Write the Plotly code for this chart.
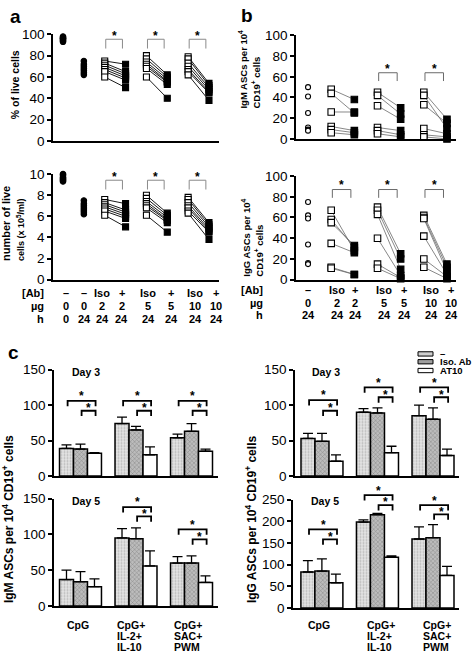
import plotly.graph_objects as go

W, H = 473, 659
FONT = "Liberation Sans, Arial, sans-serif"

# ---------------- panel a : viability, 7 donors ----------------
a_ab_labels = ["–", "–", "Iso", "+", "Iso", "+", "Iso", "+"]
a_ug_labels = ["0", "0", "2", "2", "5", "5", "10", "10"]
a_h_labels = ["0", "24", "24", "24", "24", "24", "24", "24"]

a_pct_0h = [98, 97, 96, 96, 95, 94, 93]
a_pct_24h = [75, 72, 70, 68, 66, 64, 62]
a_pct_iso2 = [75, 73, 71, 69, 67, 65, 60]
a_pct_ab2 = [72, 65, 63, 61, 59, 57, 50]
a_pct_iso5 = [80, 77, 74, 72, 70, 68, 60]
a_pct_ab5 = [62, 60, 58, 56, 55, 53, 40]
a_pct_iso10 = [79, 77, 73, 70, 67, 65, 62]
a_pct_ab10 = [54, 52, 50, 48, 46, 45, 38]

a_num_0h = [10.0, 9.9, 9.7, 9.6, 9.5, 9.4, 9.3]
a_num_24h = [7.5, 7.2, 7.0, 6.8, 6.6, 6.4, 6.2]
a_num_iso2 = [7.6, 7.3, 7.1, 6.9, 6.7, 6.5, 6.1]
a_num_ab2 = [7.2, 6.6, 6.4, 6.2, 6.0, 5.8, 5.0]
a_num_iso5 = [8.0, 7.7, 7.4, 7.2, 7.0, 6.8, 6.1]
a_num_ab5 = [6.3, 6.1, 5.9, 5.7, 5.6, 5.4, 4.5]
a_num_iso10 = [7.8, 7.6, 7.3, 7.0, 6.8, 6.5, 6.3]
a_num_ab10 = [5.4, 5.2, 5.0, 4.8, 4.6, 4.5, 3.8]

a_sig_pct = 95.4
a_sig_num = 9.42

# ---------------- panel b : ASCs, 6 donors ----------------
b_ab_labels = ["–", "Iso", "+", "Iso", "+", "Iso", "+"]
b_ug_labels = ["0", "2", "2", "5", "5", "10", "10"]
b_h_labels = ["24", "24", "24", "24", "24", "24", "24"]

b_igm_ctrl = [50, 41, 25, 11, 9, 8]
b_igm_iso2 = [48, 44, 26, 12, 9, 6]
b_igm_ab2 = [38, 25, 26, 8, 6, 4]
b_igm_iso5 = [45, 42, 32, 11, 8, 5]
b_igm_ab5 = [30, 24, 19, 8, 4, 2]
b_igm_iso10 = [45, 42, 33, 10, 4, 2]
b_igm_ab10 = [19, 10, 15, 5, 2, 0]

b_igg_ctrl = [75, 62, 59, 34, 16, 15]
b_igg_iso2 = [67, 58, 55, 35, 12, 11]
b_igg_ab2 = [28, 31, 33, 26, 5, 5]
b_igg_iso5 = [70, 67, 63, 40, 15, 11]
b_igg_ab5 = [25, 20, 10, 4, 2, 1]
b_igg_iso10 = [62, 60, 59, 42, 20, 12]
b_igg_ab10 = [15, 12, 8, 5, 3, 1]

b_sig_igm = 63.9
b_sig_igg = 87

# ---------------- panel c : bars (mean, SEM) ----------------
c_groups = [["CpG"], ["CpG+", "IL-2+", "IL-10"], ["CpG+", "SAC+", "PWM"]]
c_series = ["–", "Iso. Ab", "AT10"]

igm_d3_mean = [[39, 74, 54], [38, 65, 63], [32, 30, 35]]
igm_d3_sem = [[5, 9, 5], [7, 5, 11], [1, 11, 3]]
igm_d5_mean = [[37, 95, 60], [34, 94, 60], [27, 56, 33]]
igm_d5_sem = [[13, 13, 9], [14, 15, 10], [11, 21, 9]]
igg_d3_mean = [[53, 90, 85], [49, 89, 80], [21, 33, 29]]
igg_d3_sem = [[7, 5, 15], [11, 7, 16], [9, 9, 9]]
igg_d5_mean = [[83, 198, 159], [85, 215, 162], [58, 117, 75]]
igg_d5_sem = [[26, 5, 28], [28, 3, 30], [20, 3, 21]]

# significance brackets: (group, long bracket height, short bracket height)
igm_d3_sig = [(0, 106, 92), (1, 106, 92), (2, 106, 92)]
igm_d5_sig = [(1, 138, 125), (2, 107, 93)]
igg_d3_sig = [(0, 107, 92), (1, 125, 111), (2, 125, 111)]
igg_d5_sig = [(0, 181, 158), (1, 260, 237), (2, 237, 216)]

# ---------------- geometry (pixels) ----------------
SP = {
    'a1': (53, 219, 28, 137, [-0.48, 7.48], [0, 100], 20),
    'a2': (53, 219, 171, 279, [-0.48, 7.48], [0, 10], 2),
    'b1': (296, 456, 29, 135, [-0.52, 6.39], [0, 100], 20),
    'b2': (296, 456, 173, 279, [-0.52, 6.39], [0, 100], 20),
    'c1': (54, 218, 371, 480, [-0.477, 2.477], [0, 150], 50),
    'c2': (54, 218, 503, 613, [-0.477, 2.477], [0, 150], 50),
    'c3': (295, 459, 371, 480, [-0.486, 2.468], [0, 150], 50),
    'c4': (293, 459, 504, 615, [-0.52, 2.468], [0, 250], 50),
}
AX = {}
for i, n in enumerate(SP, 1):
    s = '' if i == 1 else str(i)
    AX[n] = ('x' + s, 'y' + s, s)


def xpx(n, xv):
    l, r, t, b, xr, yr, _ = SP[n]
    return l + (xv - xr[0]) / (xr[1] - xr[0]) * (r - l)


def ypx(n, yv):
    l, r, t, b, xr, yr, _ = SP[n]
    return b - (yv - yr[0]) / (yr[1] - yr[0]) * (b - t)


fig = go.Figure()


def text(xp, yp, s, size, bold=True, xanchor='center', yanchor='middle', angle=0, align='center'):
    fig.add_annotation(x=xp / W, y=1 - yp / H, xref='paper', yref='paper',
                       text=f"<b>{s}</b>" if bold else s, showarrow=False,
                       font=dict(size=size, family=FONT, color='black'),
                       xanchor=xanchor, yanchor=yanchor, textangle=angle, align=align)


def bracket(n, x1, x2, yv, tip, color, width, gap, star=12):
    X1, X2, Y = xpx(n, x1), xpx(n, x2), ypx(n, yv)
    path = (f"M {X1 / W},{1 - (Y + tip) / H} L {X1 / W},{1 - Y / H} "
            f"L {X2 / W},{1 - Y / H} L {X2 / W},{1 - (Y + tip) / H}")
    fig.add_shape(type='path', path=path, xref='paper', yref='paper',
                  line=dict(color=color, width=width))
    text((X1 + X2) / 2, Y - gap + 0.27 * star, '*', star)


def column(n, xi, ys, symbol, fill, size):
    xa, ya, _ = AX[n]
    fig.add_trace(go.Scatter(x=[xi] * len(ys), y=ys, mode='markers', xaxis=xa, yaxis=ya,
                             cliponaxis=False, showlegend=False, hoverinfo='skip',
                             marker=dict(symbol=symbol, size=size, color=fill,
                                         line=dict(color='black', width=1.1))))


def pairs(n, xi, ys1, xj, ys2, color, width):
    xa, ya, _ = AX[n]
    xs, yy = [], []
    for u, v in zip(ys1, ys2):
        xs += [xi, xj, None]
        yy += [u, v, None]
    fig.add_trace(go.Scatter(x=xs, y=yy, mode='lines', xaxis=xa, yaxis=ya, showlegend=False,
                             hoverinfo='skip', line=dict(color=color, width=width)))


# ---- panel a ----
for n, cols, sig in [
    ('a1', [a_pct_0h, a_pct_24h, a_pct_iso2, a_pct_ab2, a_pct_iso5, a_pct_ab5, a_pct_iso10, a_pct_ab10], a_sig_pct),
    ('a2', [a_num_0h, a_num_24h, a_num_iso2, a_num_ab2, a_num_iso5, a_num_ab5, a_num_iso10, a_num_ab10], a_sig_num),
]:
    for i in (2, 4, 6):
        pairs(n, i, cols[i], i + 1, cols[i + 1], 'black', 0.9)
    column(n, 0, cols[0], 'circle', 'black', 5.5)
    column(n, 1, cols[1], 'circle', 'black', 5.5)
    for i in (2, 4, 6):
        column(n, i, cols[i], 'square', 'white', 6)
        column(n, i + 1, cols[i + 1], 'square', 'black', 6)
        bracket(n, i + 0.05, i + 1 - 0.15, sig, 9.5, '#8a8a8a', 1, 7)

# ---- panel b ----
for n, cols, sig, sig_idx in [
    ('b1', [b_igm_ctrl, b_igm_iso2, b_igm_ab2, b_igm_iso5, b_igm_ab5, b_igm_iso10, b_igm_ab10], b_sig_igm, (3, 5)),
    ('b2', [b_igg_ctrl, b_igg_iso2, b_igg_ab2, b_igg_iso5, b_igg_ab5, b_igg_iso10, b_igg_ab10], b_sig_igg, (1, 3, 5)),
]:
    for i in (1, 3, 5):
        pairs(n, i, cols[i], i + 1, cols[i + 1], '#6a6a6a', 0.8)
    column(n, 0, cols[0], 'circle', 'white', 5)
    for i in (1, 3, 5):
        column(n, i, cols[i], 'square', 'white', 6.5)
        column(n, i + 1, cols[i + 1], 'square', 'black', 6.5)
    for i in sig_idx:
        bracket(n, i + 0.05, i + 1 - 0.15, sig, 8.5, '#6a6a6a', 1, 7.5)

# ---- panel c ----
BW = 0.252
bar_styles = [
    dict(color='#e4e4e4', pattern=dict(shape='.', fgcolor='#8c8c8c', size=3, solidity=0.35)),
    dict(color='#bcbcbc', pattern=dict(shape='x', fgcolor='#505050', size=3, solidity=0.3)),
    dict(color='white'),
]
for n, means, sems, sigs in [
    ('c1', igm_d3_mean, igm_d3_sem, igm_d3_sig),
    ('c2', igm_d5_mean, igm_d5_sem, igm_d5_sig),
    ('c3', igg_d3_mean, igg_d3_sem, igg_d3_sig),
    ('c4', igg_d5_mean, igg_d5_sem, igg_d5_sig),
]:
    xa, ya, _ = AX[n]
    for k in range(3):
        fig.add_trace(go.Bar(
            x=[g + (k - 1) * BW for g in range(3)], y=means[k], width=BW,
            xaxis=xa, yaxis=ya, showlegend=False, name=c_series[k],
            marker=dict(**bar_styles[k], line=dict(color='black', width=1.5)),
            error_y=dict(type='data', symmetric=False, array=sems[k], arrayminus=[0, 0, 0],
                         color='black', thickness=1.3, width=5)))
    for g, ylong, yshort in sigs:
        bracket(n, g - BW + 0.02, g + BW + 0.02, ylong, 5.5, 'black', 1.8, 8)
        bracket(n, g + 0.02, g + BW + 0.02, yshort, 5.5, 'black', 1.8, 6)

# ---- axes ----
lay = {}
for n, (l, r, t, b, xr, yr, step) in SP.items():
    xa, ya, s = AX[n]
    lay['xaxis' + s] = dict(domain=[l / W, r / W], range=xr, anchor=ya, showline=True,
                            linecolor='black', linewidth=1.5, ticks='', showticklabels=False,
                            showgrid=False, zeroline=False, fixedrange=True)
    lay['yaxis' + s] = dict(domain=[1 - b / H, 1 - t / H], range=yr, anchor=xa, showline=True,
                            linecolor='black', linewidth=1.5, ticks='outside', ticklen=4,
                            tickwidth=1.5, tickcolor='black', tickmode='linear', tick0=0,
                            dtick=step, tickfont=dict(size=13.5, color='black', family=FONT),
                            showgrid=False, zeroline=False, fixedrange=True)

fig.update_layout(width=W, height=H, autosize=False, margin=dict(l=0, r=0, t=0, b=0),
                  paper_bgcolor='white', plot_bgcolor='white', barmode='overlay',
                  showlegend=False, font=dict(family=FONT, color='black'), **lay)

# ---- text: panel letters ----
text(15, 10, 'a', 19)
text(247, 9, 'b', 19)
text(13, 354, 'c', 19)

# axis titles
text(15, 80, '% of live cells', 10.5, angle=-90)
text(13, 222, "number of live<br><span style='font-size:9px'>cells (x 10<sup>5</sup>/ml)</span>", 11,
     angle=-90, align='left')
text(249, 63, "IgM ASCs per 10<sup>4</sup><br>CD19<sup>+</sup> cells", 9.5, angle=-90, align='left')
text(252, 236, "IgG ASCs per 10<sup>4</sup><br>CD19<sup>+</sup> cells", 9.5, angle=-90, align='left')
text(8, 524, "IgM ASCs per 10<sup>4</sup> CD19<sup>+</sup> cells", 12, angle=-90)
text(251, 524, "IgG ASCs per 10<sup>4</sup> CD19<sup>+</sup> cells", 12, angle=-90)

# condition rows
a_lab_x = [66, 84, 102, 122, 148, 171, 195, 216]
for yrow, lab, row in [(293, '[Ab]', a_ab_labels), (306, 'µg', a_ug_labels), (319, 'h', a_h_labels)]:
    text(46, yrow, lab, 11, xanchor='right')
    for xp, s in zip(a_lab_x, row):
        text(xp, yrow, s, 11)
b_lab_x = [308, 337, 355, 384, 404, 431, 451]
for yrow, lab, row in [(290, '[Ab]', b_ab_labels), (303, 'µg', b_ug_labels), (315, 'h', b_h_labels)]:
    text(265, yrow, lab, 11, xanchor='right')
    for xp, s in zip(b_lab_x, row):
        text(xp, yrow, s, 11)

# day labels
for xp, yp, s in [(70, 373, 'Day 3'), (310, 373, 'Day 3'), (70, 506, 'Day 5'), (309, 506, 'Day 5')]:
    text(xp, yp, s, 10.5, xanchor='left')

# group labels
for xs in ([65, 115, 172], [306, 365, 421]):
    for xp, lines in zip(xs, c_groups):
        for j, s in enumerate(lines):
            text(xp, 632 + j * 11.5, s, 10.5, xanchor='left')

# legend
leg_fill = ['#cfcfcf', '#9f9f9f', 'white']
for j, (yp, s) in enumerate(zip([355, 363, 372], c_series)):
    fig.add_shape(type='rect', xref='paper', yref='paper', x0=418 / W, x1=433 / W,
                  y0=1 - (yp + 2.2) / H, y1=1 - (yp - 2.2) / H,
                  fillcolor=leg_fill[j], line=dict(color='black', width=1))
    text(438, yp, s, 9.5, xanchor='left')

fig.write_html("out.html", config={'displayModeBar': False},
               post_script="document.body.style.margin='0';document.body.style.padding='0';")
